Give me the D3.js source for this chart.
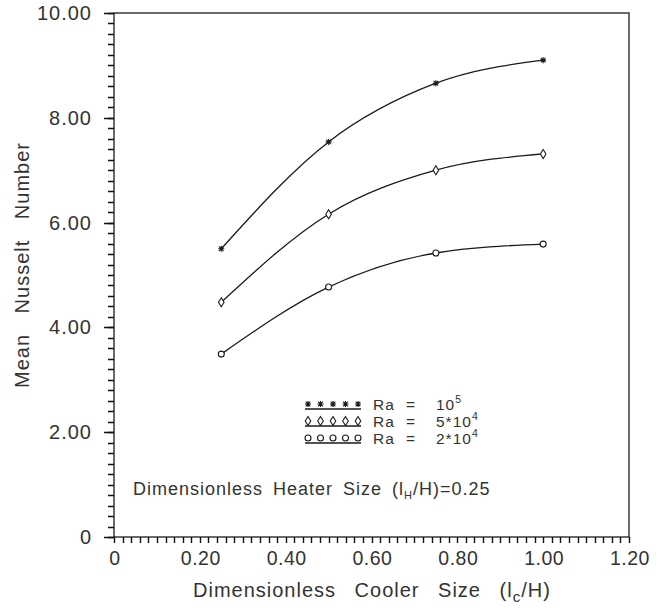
<!DOCTYPE html>
<html><head><meta charset="utf-8">
<script src="https://cdn.jsdelivr.net/npm/d3@7"></script>
<style>body{margin:0;background:#fff}svg{display:block}text{font-family:"Liberation Sans",Arial,sans-serif;fill:#333}</style>
</head><body><div id="chart"></div>
<script>
const coolerSize = [0.25, 0.50, 0.75, 1.00];
const nuRa1e5 = [5.50, 7.54, 8.66, 9.10];
const nuRa5e4 = [4.48, 6.16, 7.00, 7.31];
const nuRa2e4 = [3.49, 4.77, 5.42, 5.59];
const seriesBase = ["10", "5*10", "2*10"];
const seriesSup = ["5", "4", "4"];
const seriesMarkers = ["star", "diamond", "circle"];
const xTicks = [0, 0.2, 0.4, 0.6, 0.8, 1.0, 1.2];
const xTickLabels = ["0", "0.20", "0.40", "0.60", "0.80", "1.00", "1.20"];
const yTicks = [0, 2, 4, 6, 8, 10];
const yTickLabels = ["0", "2.00", "4.00", "6.00", "8.00", "10.00"];

const W = 661, H = 608;
const svg = d3.select("#chart").append("svg").attr("width", W).attr("height", H);
const x = d3.scaleLinear().domain([0, 1.2]).range([114, 629]);
const y = d3.scaleLinear().domain([0, 10]).range([537, 13]);
const ink = "#1a1a1a";

// frame
svg.append("rect").attr("x", x(0)).attr("y", y(10)).attr("width", x(1.2) - x(0)).attr("height", y(0) - y(10))
  .attr("fill", "none").attr("stroke", ink).attr("stroke-width", 1.3);

// x minor ticks (downward), drawn as one path
const xMinor = d3.range(0, 61).map(i => i * 0.02);
const y0 = Math.round(y(0));
svg.append("path")
  .attr("d", xMinor.map(d => `M${Math.round(x(d)) + 0.5},${y0}V${y0 + 6}`).join(""))
  .attr("stroke", "#111").attr("stroke-width", 1.4).attr("fill", "none");
svg.append("g").selectAll("text").data(xTicks).join("text")
  .attr("x", d => x(d) + 1).attr("y", 565).attr("text-anchor", "middle")
  .attr("font-size", 19.5).attr("letter-spacing", 0.5).text((d, i) => xTickLabels[i]);

// y minor ticks (leftward), drawn as one path
const yMinor = d3.range(0, 51).map(i => i * 0.2);
const x0 = Math.round(x(0));
svg.append("path")
  .attr("d", yMinor.map(d => `M${x0 - 6},${Math.round(y(d)) + 0.5}H${x0}`).join(""))
  .attr("stroke", "#111").attr("stroke-width", 1.4).attr("fill", "none");
svg.append("path")
  .attr("d", yTicks.map(d => `M${x0 - 10},${Math.round(y(d)) + 0.5}H${x0}`).join(""))
  .attr("stroke", "#111").attr("stroke-width", 1.4).attr("fill", "none");
svg.append("g").selectAll("text").data(yTicks).join("text")
  .attr("x", 92).attr("y", d => y(d) + 7).attr("text-anchor", "end")
  .attr("font-size", 20).attr("letter-spacing", 1).text((d, i) => yTickLabels[i]);

// axis titles
svg.append("text").attr("transform", "translate(29,265) rotate(-90)").attr("text-anchor", "middle")
  .attr("font-size", 20).attr("letter-spacing", 1).attr("word-spacing", 14).text("Mean Nusselt Number");
const xt = svg.append("text").attr("x", 193).attr("y", 597).attr("font-size", 20).attr("letter-spacing", 1).attr("word-spacing", 12);
xt.append("tspan").text("Dimensionless Cooler Size (l");
xt.append("tspan").attr("dy", 5).attr("font-size", 15).text("c");
xt.append("tspan").attr("dy", -5).text("/H)");

// markers
function marker(g, type, cx, cy) {
  if (type === "star") {
    const s = 3;
    g.append("path").attr("d", `M${cx - s},${cy}H${cx + s}M${cx},${cy - s}V${cy + s}M${cx - 2.3},${cy - 2.3}L${cx + 2.3},${cy + 2.3}M${cx - 2.3},${cy + 2.3}L${cx + 2.3},${cy - 2.3}`)
      .attr("stroke", ink).attr("stroke-width", 1.1).attr("fill", "none");
  } else if (type === "diamond") {
    g.append("path").attr("d", `M${cx},${cy - 4.5}L${cx + 2.8},${cy}L${cx},${cy + 4.5}L${cx - 2.8},${cy}Z`)
      .attr("stroke", ink).attr("stroke-width", 1.1).attr("fill", "#fff");
  } else {
    g.append("circle").attr("cx", cx).attr("cy", cy).attr("r", 3).attr("stroke", ink).attr("stroke-width", 1.1).attr("fill", "#fff");
  }
}

const series = [nuRa1e5, nuRa5e4, nuRa2e4];
const line = d3.line().x(d => x(d[0])).y(d => y(d[1])).curve(d3.curveMonotoneX);
series.forEach((vals, si) => {
  const pts = coolerSize.map((c, i) => [c, vals[i]]);
  svg.append("path").attr("d", line(pts)).attr("fill", "none").attr("stroke", ink).attr("stroke-width", 1.3);
  const g = svg.append("g");
  pts.forEach(p => marker(g, seriesMarkers[si], x(p[0]), y(p[1])));
});

// legend
const legY = [404, 421, 438];
seriesBase.forEach((base, i) => {
  const g = svg.append("g");
  g.append("line").attr("x1", 305).attr("x2", 361).attr("y1", legY[i] + 5).attr("y2", legY[i] + 5).attr("stroke", ink).attr("stroke-width", 1.3);
  d3.range(5).forEach(k => marker(g, seriesMarkers[i], 308 + k * 12.5, legY[i]));
  const t = g.append("text").attr("y", legY[i] + 6).attr("font-size", 15.5).attr("letter-spacing", 1);
  t.append("tspan").attr("x", 373).text("Ra");
  t.append("tspan").attr("x", 406).text("=");
  t.append("tspan").attr("x", 436).text(base);
  t.append("tspan").attr("dy", -7).attr("font-size", 10.5).text(seriesSup[i]);
});

// annotation
const an = svg.append("text").attr("x", 133).attr("y", 495).attr("font-size", 18).attr("letter-spacing", 1).attr("word-spacing", 4);
an.append("tspan").text("Dimensionless Heater Size (l");
an.append("tspan").attr("dy", 4).attr("font-size", 11).text("H");
an.append("tspan").attr("dy", -4).text("/H)=0.25");
</script></body></html>
